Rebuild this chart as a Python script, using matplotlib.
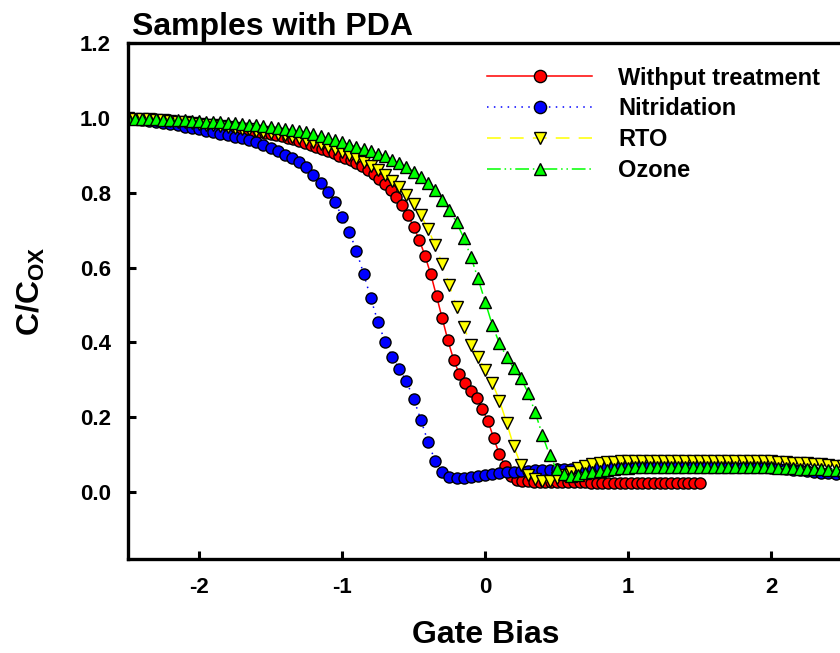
import numpy as np
import matplotlib
matplotlib.use("Agg")
import matplotlib.pyplot as plt

plt.rcParams['font.family'] = ['Liberation Sans', 'DejaVu Sans']
plt.rcParams['font.weight'] = 'bold'
plt.rcParams['axes.unicode_minus'] = False
plt.rcParams['mathtext.fontset'] = 'custom'
plt.rcParams['mathtext.rm'] = 'Liberation Sans:bold'
plt.rcParams['mathtext.bf'] = 'Liberation Sans:bold'

# Gate bias sweeps (V)
bias_red = np.linspace(-2.5, 1.5, 101)
bias_50mv = np.linspace(-2.5, 2.5, 101)

# C/Cox
c_without = [
    1.000, 0.999, 0.998, 0.997, 0.996, 0.995, 0.994, 0.993, 0.992, 0.990,
    0.989, 0.988, 0.986, 0.985, 0.983, 0.982, 0.980, 0.978, 0.976, 0.974,
    0.972, 0.970, 0.967, 0.964, 0.961, 0.958, 0.955, 0.951, 0.947, 0.943,
    0.938, 0.933, 0.928, 0.923, 0.918, 0.912, 0.906, 0.900, 0.894, 0.887,
    0.880, 0.872, 0.862, 0.851, 0.838, 0.824, 0.808, 0.790, 0.768, 0.741,
    0.709, 0.674, 0.631, 0.582, 0.524, 0.464, 0.405, 0.353, 0.315, 0.290,
    0.270, 0.250, 0.221, 0.189, 0.143, 0.100, 0.069, 0.042, 0.032, 0.029,
    0.028, 0.027, 0.027, 0.027, 0.026, 0.026, 0.026, 0.025, 0.025, 0.025,
    0.025, 0.024, 0.024, 0.024, 0.024, 0.024, 0.023, 0.023, 0.023, 0.023,
    0.023, 0.023, 0.022, 0.022, 0.022, 0.022, 0.022, 0.022, 0.022, 0.022,
    0.022,
]
c_nitridation = [
    1.000, 0.998, 0.996, 0.993, 0.990, 0.987, 0.984, 0.981, 0.977, 0.974,
    0.970, 0.966, 0.962, 0.958, 0.954, 0.950, 0.946, 0.941, 0.935, 0.928,
    0.920, 0.911, 0.902, 0.893, 0.882, 0.868, 0.848, 0.827, 0.803, 0.775,
    0.736, 0.696, 0.645, 0.584, 0.519, 0.455, 0.402, 0.361, 0.329, 0.295,
    0.249, 0.193, 0.134, 0.083, 0.053, 0.040, 0.036, 0.036, 0.039, 0.042,
    0.045, 0.047, 0.049, 0.052, 0.054, 0.055, 0.056, 0.057, 0.058, 0.059,
    0.060, 0.061, 0.062, 0.063, 0.064, 0.065, 0.065, 0.066, 0.066, 0.067,
    0.067, 0.067, 0.068, 0.068, 0.068, 0.068, 0.068, 0.068, 0.068, 0.068,
    0.068, 0.068, 0.068, 0.068, 0.067, 0.067, 0.067, 0.066, 0.066, 0.065,
    0.064, 0.063, 0.061, 0.059, 0.057, 0.055, 0.053, 0.051, 0.049, 0.048,
    0.047,
]
c_rto = [
    1.000, 0.999, 0.998, 0.997, 0.995, 0.994, 0.992, 0.991, 0.989, 0.987,
    0.985, 0.983, 0.981, 0.979, 0.977, 0.975, 0.972, 0.970, 0.967, 0.964,
    0.961, 0.958, 0.954, 0.950, 0.946, 0.941, 0.936, 0.930, 0.924, 0.917,
    0.910, 0.902, 0.893, 0.883, 0.872, 0.860, 0.847, 0.833, 0.817, 0.794,
    0.770, 0.741, 0.704, 0.660, 0.610, 0.553, 0.495, 0.442, 0.394, 0.361,
    0.326, 0.292, 0.244, 0.185, 0.121, 0.072, 0.044, 0.033, 0.029, 0.029,
    0.036, 0.045, 0.054, 0.063, 0.069, 0.074, 0.077, 0.079, 0.080, 0.081,
    0.081, 0.081, 0.082, 0.082, 0.082, 0.082, 0.082, 0.082, 0.082, 0.082,
    0.082, 0.082, 0.082, 0.082, 0.082, 0.082, 0.082, 0.082, 0.081, 0.081,
    0.081, 0.080, 0.079, 0.078, 0.077, 0.076, 0.074, 0.073, 0.071, 0.070,
    0.069,
]
c_ozone = [
    1.000, 0.999, 0.999, 0.998, 0.997, 0.996, 0.996, 0.995, 0.994, 0.993,
    0.992, 0.991, 0.990, 0.989, 0.987, 0.986, 0.984, 0.983, 0.981, 0.979,
    0.977, 0.975, 0.972, 0.969, 0.966, 0.962, 0.957, 0.952, 0.946, 0.941,
    0.935, 0.929, 0.923, 0.917, 0.911, 0.905, 0.898, 0.889, 0.880, 0.870,
    0.857, 0.843, 0.827, 0.808, 0.782, 0.754, 0.721, 0.680, 0.629, 0.571,
    0.509, 0.446, 0.397, 0.361, 0.330, 0.304, 0.265, 0.212, 0.152, 0.098,
    0.060, 0.047, 0.042, 0.045, 0.049, 0.053, 0.056, 0.059, 0.061, 0.063,
    0.064, 0.065, 0.065, 0.066, 0.066, 0.066, 0.066, 0.066, 0.066, 0.066,
    0.066, 0.066, 0.066, 0.066, 0.066, 0.066, 0.066, 0.066, 0.065, 0.065,
    0.065, 0.064, 0.064, 0.063, 0.062, 0.062, 0.061, 0.060, 0.059, 0.058,
    0.058,
]

labels = ['Withput treatment', 'Nitridation', 'RTO', 'Ozone']
x_ticks = [-2, -1, 0, 1, 2]
y_ticks = [0.0, 0.2, 0.4, 0.6, 0.8, 1.0, 1.2]

fig = plt.figure(figsize=(8.4, 6.53), dpi=100)
ax = fig.add_axes([0.1518, 0.1441, 0.8515, 0.7893])

ms = 8
mew = 1.0
ax.plot(bias_red, c_without, color='#ff0000', lw=1.1, ls='-',
        marker='o', ms=ms, mfc='#ff0000', mec='black', mew=mew, label=labels[0])
ax.plot(bias_50mv, c_nitridation, color='#0000ff', lw=1.1, ls=(0, (1, 3.5)),
        marker='o', ms=ms, mfc='#0000ff', mec='black', mew=mew, label=labels[1])
ax.plot(bias_50mv, c_rto, color='#ffff00', lw=1.1, ls=(0, (9, 6)),
        marker='v', ms=ms, mfc='#ffff00', mec='black', mew=mew, label=labels[2])
ax.plot(bias_50mv, c_ozone, color='#00ff00', lw=1.1, ls=(0, (9, 2.5, 1, 2.5, 1, 2.5)),
        marker='^', ms=ms, mfc='#00ff00', mec='black', mew=mew, label=labels[3])

ax.set_xlim(-2.5, 2.5)
ax.set_ylim(-0.18, 1.2)
ax.set_xticks(x_ticks)
ax.set_xticklabels([str(t) for t in x_ticks])
ax.set_yticks(y_ticks)
ax.set_yticklabels(['%.1f' % t for t in y_ticks])
ax.tick_params(direction='in', length=6, width=2.2, labelsize=16, pad=12)
ax.tick_params(axis='x', pad=13)
for s in ax.spines.values():
    s.set_linewidth(2.4)

ax.set_xlabel('Gate Bias', fontsize=23, fontweight='bold')
ax.xaxis.set_label_coords(0.501, -0.118)
ax.set_ylabel(r'C/C$_{\mathrm{OX}}$', fontsize=23, fontweight='bold')
ax.yaxis.set_label_coords(-0.113, 0.52)

fig.text(132 / 840, 1 - 35 / 653, 'Samples with PDA', fontsize=23,
         fontweight='bold', ha='left', va='baseline')

ax.legend(loc='upper left', bbox_to_anchor=(0.5026, 0.955), frameon=False,
          fontsize=17, handlelength=4.45, handletextpad=1.1, labelspacing=0.33,
          borderpad=0, borderaxespad=0, numpoints=1, markerscale=1.1)

fig.savefig('out.png', dpi=100)
